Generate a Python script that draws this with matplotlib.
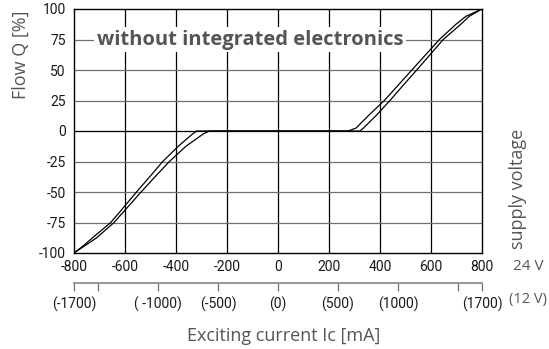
import numpy as np
import matplotlib.pyplot as plt

# flow characteristic (two branches = hysteresis)
current_a = [-800, -763, -727, -656, -605, -555, -503, -452, -391, -335, -319,
             275, 306, 354, 417, 471, 525, 579, 633, 698, 737, 800]
flow_a = [-100, -94, -87.5, -75, -62.5, -50, -37.5, -25, -12.5, -2.4, 0,
          0, 2.4, 12.5, 25, 37.5, 50, 62.5, 75, 87.5, 94, 100]
current_b = [-800, -757, -711, -643, -590, -537, -482, -426, -361, -293, -269,
             322, 335, 384, 439, 491, 544, 596, 648, 717, 750, 800]
flow_b = [-100, -94, -87.5, -75, -62.5, -50, -37.5, -25, -12.5, -2.4, 0,
          0, 2.4, 12.5, 25, 37.5, 50, 62.5, 75, 87.5, 94, 100]

x_ticks = [-800, -600, -400, -200, 0, 200, 400, 600, 800]
y_ticks = [-100, -75, -50, -25, 0, 25, 50, 75, 100]
ticks_12v = [-1700, -1500, -1000, -500, 0, 500, 1000, 1500, 1700]
labels_12v = ["(-1700)", "", "( -1000)", "(-500)", "(0)", "(500)", "(1000)", "", "(1700)"]

narrow = ['Roboto', 'DejaVu Sans']
label_font = ['Open Sans', 'DejaVu Sans']
grey = '#555555'

fig = plt.figure(figsize=(5.49, 3.49), dpi=100)
ax = fig.add_axes([74/549, 96/349, 408/549, 244/349])

ax.set_xlim(-800, 800)
ax.set_ylim(-100, 100)
ax.set_xticks(x_ticks)
ax.set_yticks(y_ticks)
ax.set_xticklabels([str(v) for v in x_ticks], family=narrow, fontsize=10, color='#1a1a1a')
ax.set_yticklabels([str(v) for v in y_ticks], family=narrow, fontsize=10, color='#1a1a1a')
ax.tick_params(axis='x', length=0, pad=5)
ax.tick_params(axis='y', length=0, pad=6)

# grid: vertical lines black, horizontal grey, zero line black
for v in x_ticks[1:-1]:
    ax.axvline(v, color='black', lw=0.9, zorder=1)
for v in y_ticks[1:-1]:
    ax.axhline(v, color='black' if v == 0 else '#707070', lw=0.9, zorder=1)
for s in ax.spines.values():
    s.set_linewidth(1.0)

ax.plot(current_a, flow_a, color='black', lw=0.9, zorder=3)
ax.plot(current_b, flow_b, color='black', lw=0.9, zorder=3)

ax.text(-110, 75, "without integrated electronics", family=label_font, weight='bold',
        fontsize=14.5, color=grey, ha='center', va='center', zorder=4,
        bbox=dict(boxstyle='square,pad=0.12', fc='white', ec='none'))

# second current scale for 12 V supply
sec = ax.secondary_xaxis(-0.123, functions=(lambda x: x * 1700 / 800, lambda x: x * 800 / 1700))
sec.set_xticks(ticks_12v)
sec.set_xticklabels(labels_12v, family=narrow, fontsize=10, color='#1a1a1a')
sec.tick_params(length=6, width=0.9, color='#707070', pad=4)
sec.spines['bottom'].set_color('#909090')
sec.spines['bottom'].set_linewidth(1.3)

fig.text(21/549, 1 - 55/349, "Flow Q [%]", rotation=90, family=label_font, fontsize=13,
         color=grey, ha='center', va='center')
fig.text(284/549, 1 - 336/349, "Exciting current Ic [mA]", family=label_font, fontsize=13,
         color=grey, ha='center', va='center')
fig.text(518/549, 1 - 189/349, "supply voltage", rotation=90, family=label_font, fontsize=13,
         color=grey, ha='center', va='center')
fig.text(528/549, 1 - 266/349, "24 V", family=label_font, fontsize=11,
         color=grey, ha='center', va='center')
fig.text(547/549, 1 - 300/349, "(12 V)", family=label_font, fontsize=10.5,
         color=grey, ha='right', va='center')

fig.savefig("out.png", dpi=100)
